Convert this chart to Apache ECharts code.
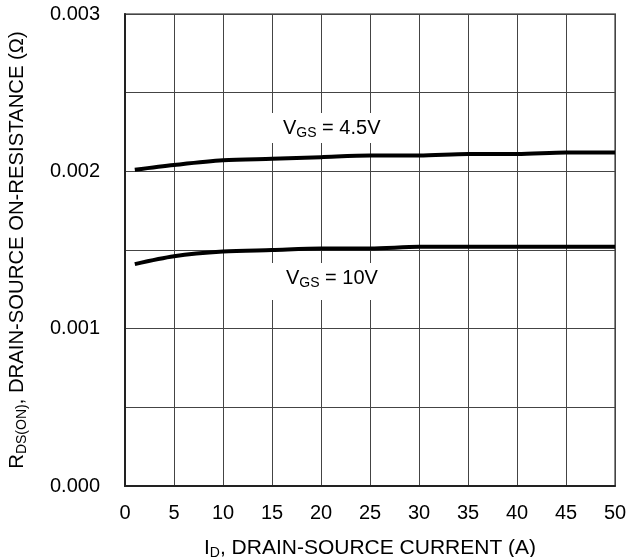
<!DOCTYPE html>
<html>
<head>
<meta charset="utf-8">
<script src="https://cdn.jsdelivr.net/npm/echarts@6/dist/echarts.min.js"></script>
<style>
  html, body { margin: 0; padding: 0; background: #fff; }
  #chart { width: 627px; height: 557px; }
</style>
</head>
<body>
<div id="chart"></div>
<script>
// Drain current (A)
const currentA = [1, 5, 10, 15, 20, 25, 30, 35, 40, 45, 50];
// On-resistance (ohm) at VGS = 4.5 V
const rdsVgs45 = [0.00201, 0.00204, 0.00207, 0.00208, 0.00209, 0.00210, 0.00210, 0.00211, 0.00211, 0.00212, 0.00212];
// On-resistance (ohm) at VGS = 10 V
const rdsVgs10 = [0.00141, 0.00146, 0.00149, 0.00150, 0.00151, 0.00151, 0.00152, 0.00152, 0.00152, 0.00152, 0.00152];

const FONT = '"Liberation Sans", Arial, sans-serif';

const chart = echarts.init(document.getElementById('chart'));

function pairs(xs, ys) { return xs.map((x, i) => [x, ys[i]]); }

function titleRich(size) {
  return {
    m: { fontSize: size, fontFamily: FONT, color: '#000' },
    s: { fontSize: 14, fontFamily: FONT, color: '#000', verticalAlign: 'bottom', padding: [10, 0, 0, 0] }
  };
}
const labelRich = {
  m: { fontSize: 20, fontFamily: FONT, fill: '#000', color: '#000' },
  s: { fontSize: 14, fontFamily: FONT, fill: '#000', color: '#000', verticalAlign: 'bottom', padding: [10, 0, 0, 0] }
};

chart.setOption({
  animation: false,
  backgroundColor: '#fff',
  grid: {
    left: 125, top: 14, right: 12, bottom: 71,
    outerBoundsMode: 'none', containLabel: false,
    show: true, borderColor: '#8a8a8a', borderWidth: 2
  },
  xAxis: {
    type: 'value', min: 0, max: 50, interval: 5,
    axisLine: { show: true, onZero: false, lineStyle: { color: '#222', width: 2 } },
    axisTick: { show: false },
    axisLabel: { color: '#000', fontSize: 20, fontFamily: FONT, margin: 17 },
    splitLine: { show: true, lineStyle: { color: '#444', width: 1 } },
    name: '{m|I}{s|D}{m|, DRAIN-SOURCE CURRENT (A)}',
    nameLocation: 'middle', nameGap: 50,
    nameTextStyle: { rich: titleRich(21) }
  },
  yAxis: {
    type: 'value', min: 0, max: 0.003, interval: 0.0005,
    axisLine: { show: true, onZero: false, lineStyle: { color: '#222', width: 2 } },
    axisTick: { show: false },
    axisLabel: {
      color: '#000', fontSize: 20, fontFamily: FONT, margin: 25,
      formatter: v => (Math.round(v * 2000) % 2 === 0 ? v.toFixed(3) : '')
    },
    splitLine: { show: true, lineStyle: { color: '#444', width: 1 } },
    name: '{m|R}{s|DS(ON)}{m|, DRAIN-SOURCE ON-RESISTANCE (Ω)}',
    nameLocation: 'middle', nameGap: 96, nameRotate: 90,
    nameTextStyle: { rich: titleRich(20.3) }
  },
  series: [
    {
      type: 'line', name: 'VGS = 4.5V', data: pairs(currentA, rdsVgs45),
      smooth: 0.3, showSymbol: false, z: 5,
      lineStyle: { color: '#000', width: 4 }
    },
    {
      type: 'line', name: 'VGS = 10V', data: pairs(currentA, rdsVgs10),
      smooth: 0.3, showSymbol: false, z: 5,
      lineStyle: { color: '#000', width: 4 }
    }
  ],
  graphic: [
    {
      type: 'text', left: 269, top: 113, z: 10,
      style: {
        text: '{m|V}{s|GS}{m| = 4.5V}',
        backgroundColor: '#fff', padding: [3, 4, 3, 14],
        rich: labelRich
      }
    },
    {
      type: 'text', left: 272, top: 263, z: 10,
      style: {
        text: '{m|V}{s|GS}{m| = 10V}',
        backgroundColor: '#fff', padding: [3, 4, 10, 14],
        rich: labelRich
      }
    }
  ]
});
</script>
</body>
</html>
